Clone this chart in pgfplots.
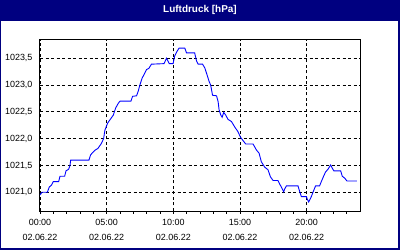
\documentclass[border=0pt]{standalone}
\usepackage{fontspec}
\setmainfont{Liberation Sans}
\usepackage{pgfplots}
\pgfplotsset{compat=1.18}
\definecolor{navy}{RGB}{0,0,128}
\begin{document}
\begin{tikzpicture}[x=1bp,y=1bp]
\useasboundingbox (0,0) rectangle (400,250);
\fill[navy] (0,0) rectangle (400,250);
\fill[white] (1,1.7) rectangle (398.3,229.3);
\node[text=white, font=\fontsize{10}{12}\selectfont\bfseries] at (200,240) {Luftdruck [hPa]};
\begin{axis}[
  at={(40bp,39bp)}, anchor=south west, scale only axis,
  width=320bp, height=171bp,
  xmin=0, xmax=24, ymin=1020.651, ymax=1023.841,
  xtick={0,5,10,15,20},
  xticklabels={{00:00\\02.06.22},{05:00\\02.06.22},{10:00\\02.06.22},{15:00\\02.06.22},{20:00\\02.06.22}},
  minor xtick={1,2,3,4,6,7,8,9,11,12,13,14,16,17,18,19,21,22,23},
  ytick={1021,1021.5,1022,1022.5,1023,1023.5},
  /pgf/number format/assume math mode=true,
  yticklabel style={/pgf/number format/fixed, /pgf/number format/fixed zerofill, /pgf/number format/precision=1, /pgf/number format/use comma, /pgf/number format/1000 sep={}, font=\fontsize{9}{11}\selectfont, xshift=-1bp},
  xticklabel style={align=center, font=\fontsize{9}{15}\selectfont, yshift=-2bp},
  grid=major,
  grid style={black, line width=0.8bp, dash pattern=on 3bp off 2.5bp},
  axis line style={black, line width=1bp},
  xtick pos=bottom, ytick pos=left,
  tick align=outside,
  major tick length=3bp, minor tick length=3bp,
  xtick style={black, line width=0.8bp},
  ytick style={draw=none},
]
\addplot[blue, line width=0.9bp, mark=none] coordinates {
(0.0,1020.95) (0.15,1021.0) (0.55,1021.0) (0.7,1021.1) (0.85,1021.13) (1.0,1021.2) (1.4,1021.2)
(1.5,1021.3) (1.85,1021.3) (1.95,1021.4) (2.15,1021.43) (2.25,1021.5) (2.3,1021.6) (3.67,1021.6)
(3.8,1021.7) (4.1,1021.78) (4.35,1021.82) (4.6,1021.91) (4.77,1022.0) (4.87,1022.16) (5.07,1022.29)
(5.24,1022.35) (5.5,1022.44) (5.67,1022.57) (5.87,1022.66) (6.0,1022.7) (6.82,1022.7) (6.94,1022.79)
(7.24,1022.8) (7.36,1022.88) (7.49,1023.0) (7.66,1023.13) (7.81,1023.2) (7.99,1023.29) (8.16,1023.31)
(8.36,1023.39) (9.3,1023.4) (9.49,1023.5) (9.69,1023.4) (9.98,1023.4) (10.1,1023.54) (10.28,1023.63)
(10.43,1023.69) (10.86,1023.69) (10.99,1023.6) (11.6,1023.6) (11.74,1023.45) (11.86,1023.39)
(12.19,1023.39) (12.36,1023.32) (12.53,1023.19) (12.68,1023.07) (12.8,1023.0) (12.94,1022.81)
(13.24,1022.8) (13.36,1022.69) (13.43,1022.54) (13.56,1022.44) (13.66,1022.4) (13.78,1022.49)
(13.93,1022.44) (14.1,1022.36) (14.36,1022.32) (14.6,1022.22) (14.85,1022.13) (15.03,1022.03)
(15.18,1021.98) (15.43,1021.9) (15.98,1021.9) (16.23,1021.79) (16.43,1021.73) (16.6,1021.57)
(16.85,1021.47) (17.1,1021.42) (17.28,1021.29) (17.48,1021.22) (17.85,1021.22) (17.98,1021.15)
(18.1,1021.1) (18.28,1021.01) (18.35,1021.06) (18.48,1021.12) (19.35,1021.12) (19.48,1021.01)
(19.6,1020.92) (19.98,1020.92) (20.05,1020.87) (20.15,1020.82) (20.35,1020.92) (20.52,1021.03)
(20.67,1021.12) (20.97,1021.12) (21.1,1021.2) (21.27,1021.3) (21.42,1021.38) (21.6,1021.43)
(21.8,1021.51) (21.92,1021.45) (22.04,1021.4) (22.55,1021.4) (22.67,1021.3) (22.87,1021.26)
(23.02,1021.21) (23.77,1021.21)
};
\node[anchor=east, font=\fontsize{9}{11}\selectfont, inner sep=0pt] at (rel axis cs:0,1) [xshift=-3.5bp, yshift=-5bp] {hPa};
\end{axis}
\end{tikzpicture}
\end{document}
